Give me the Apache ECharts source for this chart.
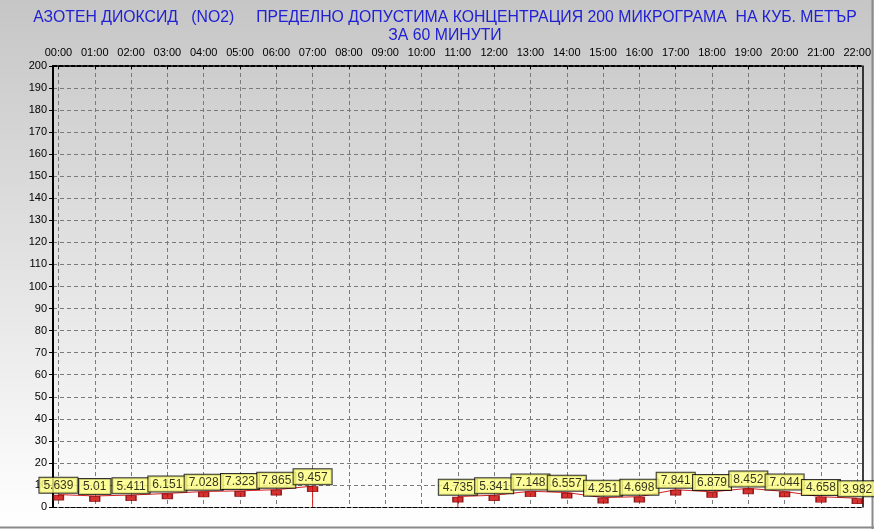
<!DOCTYPE html>
<html>
<head>
<meta charset="utf-8">
<script src="https://cdn.jsdelivr.net/npm/echarts@6/dist/echarts.min.js"></script>
<style>
html,body{margin:0;padding:0;background:#fff;}
#chart{width:874px;height:529px;}
</style>
</head>
<body>
<div id="chart"></div>
<script>
// ---- data ----
var hours = ['00:00','01:00','02:00','03:00','04:00','05:00','06:00','07:00','08:00','09:00','10:00','11:00','12:00','13:00','14:00','15:00','16:00','17:00','18:00','19:00','20:00','21:00','22:00'];
var no2 = [5.639, 5.01, 5.411, 6.151, 7.028, 7.323, 7.865, 9.457, null, null, null, 4.735, 5.341, 7.148, 6.557, 4.251, 4.698, 7.841, 6.879, 8.452, 7.044, 4.658, 3.982];
var yMin = 0, yMax = 200, yStep = 10;
var titleLine1 = 'АЗОТЕН ДИОКСИД   (NO2)     ПРЕДЕЛНО ДОПУСТИМА КОНЦЕНТРАЦИЯ 200 МИКРОГРАМА  НА КУБ. МЕТЪР';
var titleLine2 = 'ЗА 60 МИНУТИ';

// ---- derived ----
var hourIdx = hours.map(function(h, i){ return i; });
var pts = [];
var lineData = [];
no2.forEach(function(v, i){
  if (v == null) return;
  pts.push([i, v]);
  var prevNull = i > 0 && no2[i-1] == null;
  var nextNull = i < no2.length - 1 && no2[i+1] == null;
  if (prevNull) { lineData.push(null); lineData.push([i, 0]); }
  lineData.push([i, v]);
  if (nextNull) { lineData.push([i, 0]); }
});

var chart = echarts.init(document.getElementById('chart'));
var font = 'Arial, "Liberation Sans", sans-serif';
chart.setOption({
  animation: false,
  backgroundColor: {
    type: 'linear', x: 0, y: 0, x2: 0, y2: 1,
    colorStops: [{offset: 0, color: '#c6c6c6'}, {offset: 0.96, color: '#fdfdfd'}, {offset: 1, color: '#ffffff'}]
  },
  title: {
    text: titleLine1 + '\n' + titleLine2,
    left: 440, top: 4, textAlign: 'center',
    textStyle: {color: '#2020d4', fontSize: 15.8, fontWeight: 'normal', fontFamily: font, lineHeight: 18}
  },
  graphic: [
    {type: 'line', shape: {x1: 0, y1: 527.5, x2: 874, y2: 527.5}, style: {stroke: '#8a8a8a', lineWidth: 2}, silent: true},
    {type: 'line', shape: {x1: 872.5, y1: 0, x2: 872.5, y2: 529}, style: {stroke: '#8a8a8a', lineWidth: 2}, silent: true}
  ],
  grid: {left: 53, right: 8, top: 66, bottom: 22, containLabel: false},
  xAxis: [{
    type: 'value', position: 'top', min: -0.15, max: 22.15,
    axisLine: {show: true, onZero: false, lineStyle: {color: '#000', width: 2, type: [4, 2]}},
    axisTick: {show: true, inside: true, length: 3, customValues: hourIdx, lineStyle: {color: '#000'}},
    axisLabel: {show: true, customValues: hourIdx, formatter: function(v){ return hours[Math.round(v)]; }, color: '#000', fontSize: 11, fontFamily: font, margin: 8},
    splitLine: {show: true, lineStyle: {color: '#7a7a7a', type: [4, 3], width: 1}}
  }, {
    type: 'value', position: 'bottom', min: -0.15, max: 22.15,
    axisLine: {show: true, onZero: false, lineStyle: {color: '#000', width: 1, type: [4, 2]}},
    axisTick: {show: false}, axisLabel: {show: false}, splitLine: {show: false}
  }],
  yAxis: [{
    type: 'value', min: yMin, max: yMax, interval: yStep,
    axisLine: {show: true, onZero: false, lineStyle: {color: '#000', width: 2}},
    axisTick: {show: true, length: 4, lineStyle: {color: '#000'}},
    axisLabel: {color: '#000', fontSize: 11, fontFamily: font, margin: 6},
    splitLine: {show: true, lineStyle: {color: '#7a7a7a', type: [4, 3], width: 1}}
  }, {
    type: 'value', position: 'right', min: yMin, max: yMax, interval: yStep,
    axisLine: {show: true, onZero: false, lineStyle: {color: '#000', width: 1.5}},
    axisTick: {show: false}, axisLabel: {show: false}, splitLine: {show: false}
  }],
  series: [{
    type: 'line', data: lineData, xAxisIndex: 0, yAxisIndex: 0,
    showSymbol: false, connectNulls: false, silent: true,
    lineStyle: {color: '#d42020', width: 1}, z: 3
  }, {
    type: 'scatter', data: pts, xAxisIndex: 0, yAxisIndex: 0,
    symbol: 'rect', symbolSize: [10, 5], symbolOffset: [0, 3],
    itemStyle: {color: '#cc0000', borderColor: '#780000', borderWidth: 1},
    label: {
      show: true, position: 'top', distance: 2,
      formatter: function(p){ return String(p.value[1]); },
      color: '#000', fontSize: 12, fontFamily: font, lineHeight: 14,
      backgroundColor: '#ffff80', borderColor: '#000', borderWidth: 1,
      padding: [1, 4, 0, 4]
    },
    z: 4
  }]
});
</script>
</body>
</html>
